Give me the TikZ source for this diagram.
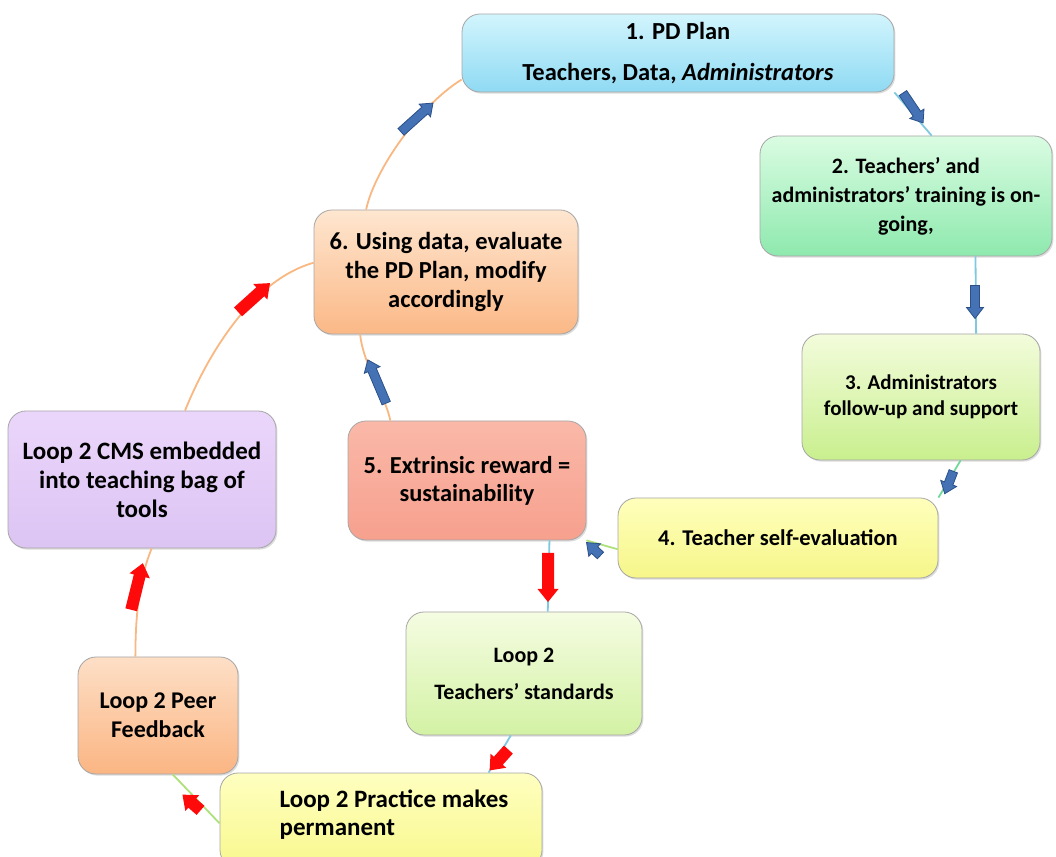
\documentclass[tikz,border=0pt]{standalone}
\usepackage{fontspec}
\setmainfont{Carlito}
\usetikzlibrary{shadows}

% box fills (top / bottom of each gradient)
\definecolor{c1t}{HTML}{D2F5FD}\definecolor{c1b}{HTML}{8FDAF3}
\definecolor{c2t}{HTML}{DAFCE2}\definecolor{c2b}{HTML}{8EE9AE}
\definecolor{c3t}{HTML}{F3FCDC}\definecolor{c3b}{HTML}{C9EF8E}
\definecolor{c4t}{HTML}{FFFFBC}\definecolor{c4b}{HTML}{F6F68A}
\definecolor{c5t}{HTML}{FAB8A8}\definecolor{c5b}{HTML}{F7A08E}
\definecolor{c6t}{HTML}{FEE6D0}\definecolor{c6b}{HTML}{FBB886}
\definecolor{cmst}{HTML}{EBD6FB}\definecolor{cmsb}{HTML}{DCC4F3}
\definecolor{stdt}{HTML}{F5FCE2}\definecolor{stdb}{HTML}{D3F2A4}
\definecolor{peert}{HTML}{FDDFC6}\definecolor{peerb}{HTML}{FBB583}
\definecolor{pract}{HTML}{FFFFC0}\definecolor{pracb}{HTML}{F8F88E}
\definecolor{boxline}{HTML}{A6A6A6}
% connector colours
\definecolor{lorange}{HTML}{F9B782}
\definecolor{lblue}{HTML}{7FC8DE}
\definecolor{lteal}{HTML}{74D89C}
\definecolor{lgreen}{HTML}{AEE07C}
% block arrows
\definecolor{bluemain}{HTML}{4472B4}
\definecolor{bluedark}{HTML}{2B5088}
\definecolor{redmain}{HTML}{FF0A0A}

% bold text at a given size / line distance
\newcommand\boxfont[2]{\fontsize{#1}{#2}\selectfont\bfseries}

\tikzset{
  box/.style={rectangle, rounded corners=18pt, draw=boxline, line width=0.8pt,
    align=center, inner sep=0pt,
    drop shadow={opacity=0.28, shadow xshift=1.4pt, shadow yshift=-1.6pt}},
  txt/.style={align=left, inner sep=0pt},
  link/.style={line width=1.8pt},
  bluetip/.style={draw=bluedark, fill=bluemain, line width=0.8pt},
  redtip/.style={fill=redmain},
  barrow/.pic={\path[pic actions] (-#1/2,-4.5) -- (#1/2-11,-4.5) -- (#1/2-11,-8.5)
      -- (#1/2,0) -- (#1/2-11,8.5) -- (#1/2-11,4.5) -- (-#1/2,4.5) -- cycle;},
  rarrow/.pic={\path[pic actions] (-#1/2,-6) -- (#1/2-13,-6) -- (#1/2-13,-10.5)
      -- (#1/2,0) -- (#1/2-13,10.5) -- (#1/2-13,6) -- (-#1/2,6) -- cycle;},
}

\begin{document}
\begin{tikzpicture}[x=1pt,y=1pt]
\useasboundingbox (0,0) rectangle (1056,856);
\clip (0,0) rectangle (1056,856);

% ---- stages ----
\node[box, top color=c1t, bottom color=c1b, minimum width=432pt, minimum height=78pt,
  font=\boxfont{24.5}{29.5}]
  (p1) at (678,803) {1. PD Plan\\[11.5pt]Teachers, Data, \textit{Administrators}};
\node[box, top color=c2t, bottom color=c2b, minimum width=292pt, minimum height=120pt,
  font=\boxfont{22}{29}]
  (p2) at (906,660) {2. Teachers’ and\\administrators’ training is on-\\going,};
\node[box, top color=c3t, bottom color=c3b, minimum width=238pt, minimum height=126pt,
  font=\boxfont{21}{26}]
  (p3) at (921,459) {3. Administrators\\follow-up and support};
\node[box, top color=c4t, bottom color=c4b, minimum width=320pt, minimum height=80pt,
  font=\boxfont{22.5}{28}]
  (p4) at (778,318) {4. Teacher self-evaluation};
\node[box, top color=c5t, bottom color=c5b, minimum width=238pt, minimum height=119pt,
  font=\boxfont{24.4}{28}]
  (p5) at (467,375.5) {5. Extrinsic reward =\\sustainability};
\node[box, top color=c6t, bottom color=c6b, minimum width=264pt, minimum height=124pt,
  font=\boxfont{24.5}{29}]
  (p6) at (446,584) {6. Using data, evaluate\\the PD Plan, modify\\accordingly};
\node[box, top color=cmst, bottom color=cmsb, minimum width=268pt, minimum height=137pt,
  font=\boxfont{25}{29}]
  (cms) at (142,376.5) {Loop 2 CMS embedded\\into teaching bag of\\tools};
\node[box, top color=stdt, bottom color=stdb, minimum width=236pt, minimum height=123pt,
  font=\boxfont{22}{26.5}]
  (std) at (524,182.5) {Loop 2\\[10.5pt]Teachers’ standards};
\node[box, top color=peert, bottom color=peerb, minimum width=160pt, minimum height=117pt,
  font=\boxfont{24}{29}]
  (peer) at (158,140.5) {Loop 2 Peer\\Feedback};
\node[box, top color=pract, bottom color=pracb, minimum width=322pt, minimum height=95pt]
  (prac) at (381,35.5) {};
\node[txt, font=\boxfont{25}{28}] (practext) at (394,41) {Loop 2 Practice makes\\permanent};

% ---- connectors ----
\draw[link, lorange] (cms.58) .. controls +(20,50) and +(-64,-18) .. (p6.176);
\draw[link, lorange] (p6.142) .. controls +(8,39) and +(-42,-26) .. (p1.187);
\draw[link, lblue] (p1.south east) -- (p2.67);
\draw[link, lblue] (p2.-41) -- (p3.49);
\draw[link, lteal] (p3.-58) -- (p4.north east);
\draw[link, lgreen] (p4.184) -- (p5.south east);
\draw[link, lorange] (p5.142) .. controls +(-5,25) and +(3,-30) .. (p6.216);
\draw[link, lblue] (p5.-36) -- (std.69);
\draw[link, lblue] (std.258) -- (prac.24);
\draw[link, lgreen] (prac.181) -- (peer.284);
\draw[link, lorange] (peer.111) .. controls +(0,60) and +(-8,-20) .. (cms.278);

% ---- block arrows on the connectors ----
\pic[bluetip, rotate=42] at (417,738.5) {barrow=43};
\pic[bluetip, rotate=-56] at (913,748) {barrow=36};
\pic[bluetip, rotate=-90] at (975,554) {barrow=33};
\pic[bluetip, rotate=-111] at (949,373.5) {barrow=24};
\pic[bluetip, rotate=137] at (593.5,307) {barrow=19};
\pic[bluetip, rotate=113] at (377,474.5) {barrow=47};

\pic[redtip, rotate=-90] at (548,278.5) {rarrow=49};
\pic[redtip, rotate=-132] at (499,96) {rarrow=28};
\pic[redtip, rotate=139] at (191.5,53.5) {rarrow=24};
\pic[redtip, rotate=76] at (137,269.5) {rarrow=48};
\pic[redtip, rotate=42] at (254,558.5) {rarrow=43};
\end{tikzpicture}
\end{document}
